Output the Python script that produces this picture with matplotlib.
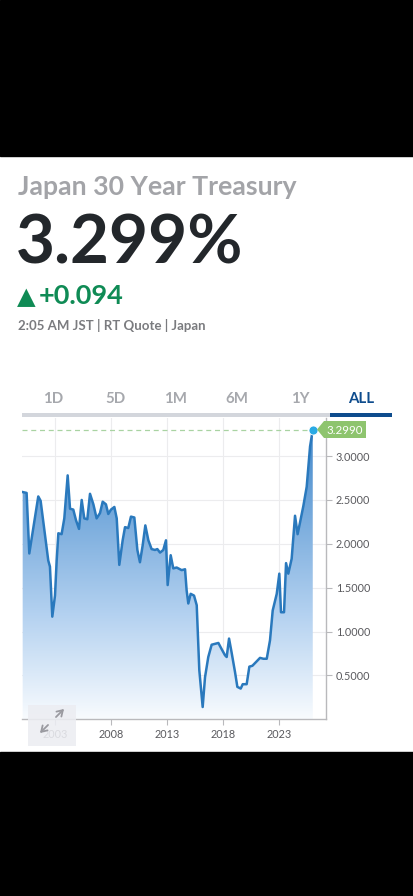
import matplotlib
matplotlib.use('Agg')
import matplotlib.pyplot as plt
import numpy as np
from matplotlib.colors import LinearSegmentedColormap
from matplotlib.patches import Rectangle, Polygon, FancyArrowPatch

# data (decimal years, yield %)
years = [2000.13, 2000.48, 2000.72, 2001.52, 2001.73, 2002.41, 2002.56, 2002.77, 2003.01, 2003.16,
         2003.31, 2003.60, 2003.84, 2004.14, 2004.35, 2004.64, 2004.88, 2005.15, 2005.39, 2005.62,
         2005.89, 2006.13, 2006.43, 2006.72, 2007.02, 2007.26, 2007.55, 2007.76, 2008.00, 2008.30,
         2008.51, 2008.74, 2009.04, 2009.25, 2009.54, 2009.78, 2010.08, 2010.35, 2010.58, 2010.82,
         2011.06, 2011.33, 2011.62, 2011.92, 2012.13, 2012.37, 2012.66, 2012.90, 2013.05, 2013.32,
         2013.55, 2013.85, 2014.30, 2014.60, 2014.74, 2014.89, 2015.10, 2015.40, 2015.64, 2015.87,
         2016.17, 2016.38, 2016.67, 2016.97, 2017.57, 2017.86, 2018.16, 2018.31, 2018.52, 2018.75,
         2019.05, 2019.26, 2019.56, 2019.74, 2020.09, 2020.33, 2020.60, 2020.98, 2021.28, 2021.58,
         2021.88, 2022.17, 2022.41, 2022.77, 2023.00, 2023.15, 2023.42, 2023.60, 2023.80, 2024.10,
         2024.40, 2024.63, 2024.84, 2025.14, 2025.44, 2025.74, 2025.98]
yields = [2.59, 2.58, 1.89, 2.54, 2.49, 1.81, 1.74, 1.17, 1.41, 1.81,
          2.12, 2.11, 2.29, 2.78, 2.40, 2.39, 2.27, 2.17, 2.50, 2.29,
          2.28, 2.57, 2.45, 2.29, 2.35, 2.48, 2.45, 2.34, 2.39, 2.42,
          2.29, 1.76, 2.04, 2.19, 2.18, 2.31, 2.30, 1.93, 1.79, 1.98,
          2.21, 2.04, 1.94, 1.93, 1.94, 1.90, 1.93, 2.04, 1.53, 1.87,
          1.72, 1.73, 1.70, 1.71, 1.47, 1.32, 1.43, 1.41, 1.30, 0.56,
          0.14, 0.48, 0.71, 0.85, 0.87, 0.80, 0.73, 0.71, 0.92, 0.76,
          0.54, 0.37, 0.35, 0.40, 0.40, 0.60, 0.61, 0.66, 0.70, 0.69,
          0.69, 0.90, 1.24, 1.43, 1.66, 1.22, 1.22, 1.78, 1.66, 1.83,
          2.32, 2.11, 2.24, 2.43, 2.65, 3.11, 3.299]
year_ticks = [2003, 2008, 2013, 2018, 2023]
value_ticks = [0.5, 1.0, 1.5, 2.0, 2.5, 3.0]
tabs = ['1D', '5D', '1M', '6M', '1Y', 'ALL']
last_value = yields[-1]

W, H = 414, 896
def px(x):
    return x / W
def py(y):
    return 1 - y / H

fig = plt.figure(figsize=(4.14, 8.96), dpi=100)
fig.patch.set_facecolor('white')

# black bands top and bottom
fig.add_artist(Rectangle((0, py(156)), 1, 156 / H, transform=fig.transFigure, color='black', zorder=0))
fig.add_artist(Rectangle((0, 0), 1, (H - 752) / H, transform=fig.transFigure, color='black', zorder=0))

font = ['Lato', 'DejaVu Sans']
fig.text(px(18), py(195), 'Japan 30 Year Treasury', family=font, weight='bold', fontsize=19.2,
         color='#a3a4a8', va='baseline')
fig.text(px(16), py(263), '3.299%', family=font, weight='bold', fontsize=48.5,
         color='#23272b', va='baseline')
fig.text(px(17), py(304), '\u25b2', family='DejaVu Sans', fontsize=17.5,
         color='#0f8b55', va='baseline')
fig.text(px(39), py(304), '+0.094', family=font, weight='bold', fontsize=19.5,
         color='#0f8b55', va='baseline')
fig.text(px(18), py(330), '2:05 AM JST | RT Quote | Japan', family=font, weight='bold', fontsize=9.5,
         color='#7a7b7f', va='baseline')

# range tabs
tab_x = [53, 115, 176, 237, 300, 361]
for t, x in zip(tabs, tab_x):
    sel = t == 'ALL'
    fig.text(px(x), py(403), t, family=font, weight='bold', fontsize=10.8, ha='center',
             va='baseline', color='#0e4c8d' if sel else '#a6a8ad')
fig.add_artist(Rectangle((px(22), py(417)), px(308), 4 / H, transform=fig.transFigure,
                         color='#d3d6dc', lw=0))
fig.add_artist(Rectangle((px(330), py(417)), px(62), 4 / H, transform=fig.transFigure,
                         color='#0e4c8d', lw=0))

# chart
ax = fig.add_axes([px(22), py(719.3), px(304), 301.3 / H])
xmin, xmax = 2000.07, 2027.16
ymin, ymax = 0.0, 3.434
ax.set_xlim(xmin, xmax)
ax.set_ylim(ymin, ymax)

cmap = LinearSegmentedColormap.from_list('fade', [(0, '#f8fbfe'), (0.35, '#b3d1f0'), (1, '#3a83c8')])
grad = np.linspace(0, 1, 256).reshape(-1, 1)
im = ax.imshow(grad, extent=[xmin, xmax, ymin, ymax], origin='lower', aspect='auto', cmap=cmap, zorder=1)
poly = ax.fill_between(years, yields, 0, color='none', lw=0)
clip = poly.get_paths()[0]
im.set_clip_path(clip, transform=ax.transData)

ax.plot(years, yields, color='#2a79bd', lw=1.8, zorder=3, solid_joinstyle='round')
ax.plot([xmin, years[-1]], [last_value, last_value], color='#a9d3a2', lw=0.9,
        dashes=(4, 3), zorder=2)
ax.plot(years[-1], last_value, 'o', ms=6.5, color='#2aaae4', mec='white', mew=0.6, zorder=4, clip_on=False)

ax.set_xticks(year_ticks)
ax.set_xticklabels([str(y) for y in year_ticks])
ax.set_yticks(value_ticks)
ax.set_yticklabels(['%.4f' % v for v in value_ticks])
ax.yaxis.tick_right()
ax.grid(True, color='#ececee', lw=0.8, zorder=0)
ax.set_axisbelow(True)
for s in ['top', 'left']:
    ax.spines[s].set_visible(False)
for s in ['bottom', 'right']:
    ax.spines[s].set_color('#b9b9bc')
    ax.spines[s].set_linewidth(1.0)
ax.tick_params(axis='both', colors='#b9b9bc', length=4, width=0.8, labelcolor='#5a5a5e',
               labelsize=7.8, pad=3)
for lbl in ax.get_xticklabels() + ax.get_yticklabels():
    lbl.set_family(font)

# value tag
tag = Polygon([(px(317), py(429.5)), (px(324), py(421)), (px(366), py(421)),
               (px(366), py(438)), (px(324), py(438))], closed=True,
              transform=fig.transFigure, color='#8ec46e', lw=0, zorder=5)
fig.add_artist(tag)
fig.text(px(345), py(430), '%.4f' % last_value, family=font, fontsize=8.3, color='white',
         ha='center', va='center', zorder=6)

# expand icon overlay
fig.add_artist(Rectangle((px(28), py(746)), px(48), 41 / H, transform=fig.transFigure,
                         color='#ecedf2', alpha=0.88, lw=0, zorder=5))
for start, end in [((54, 719), (66, 707)), ((50, 723), (38, 735))]:
    arr = FancyArrowPatch((px(start[0]), py(start[1])), (px(end[0]), py(end[1])),
                          transform=fig.transFigure, arrowstyle='->,head_length=4,head_width=2.5',
                          color='#9a9aa0', lw=1.3, zorder=6)
    fig.add_artist(arr)

fig.savefig('out.png', dpi=100)
